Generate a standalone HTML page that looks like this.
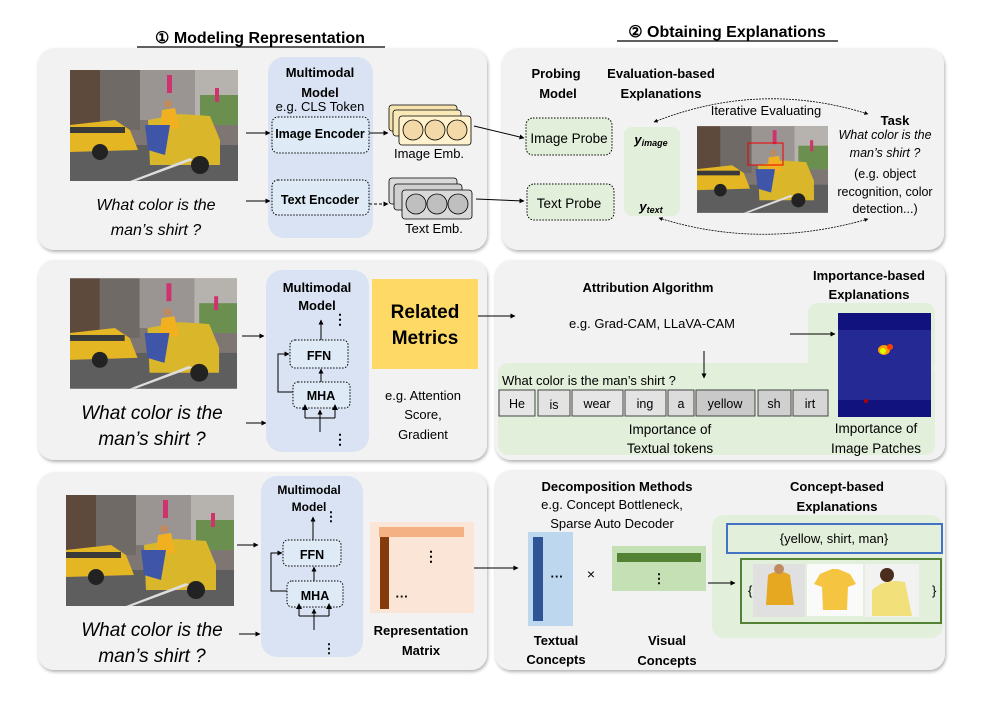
<!DOCTYPE html>
<html><head><meta charset="utf-8"><style>
body{margin:0;background:#fff;}
svg text{font-family:"Liberation Sans",sans-serif;}
</style></head><body>
<svg width="1002" height="702" viewBox="0 0 1002 702" xmlns="http://www.w3.org/2000/svg">
<defs>
<symbol id="photo" viewBox="0 0 168 111">
<rect width="168" height="111" fill="#7d7672"/>
<rect x="0" y="0" width="30" height="60" fill="#5e4a3c"/>
<rect x="30" y="0" width="40" height="60" fill="#6f6a66"/>
<rect x="70" y="0" width="55" height="50" fill="#9a9592"/>
<rect x="125" y="0" width="43" height="55" fill="#b6b2ae"/>
<rect x="130" y="25" width="38" height="30" fill="#6b8f4e"/>
<rect x="97" y="5" width="5" height="18" fill="#d0326e"/>
<rect x="145" y="18" width="4" height="14" fill="#d0326e"/>
<rect x="0" y="75" width="168" height="36" fill="#5f5e5e"/>
<path d="M0 55 L45 50 L60 60 L68 80 L0 82Z" fill="#e4b624"/>
<rect x="0" y="57" width="55" height="6" fill="#3a3a3a"/>
<path d="M78 50 L110 44 L140 46 L150 70 L150 95 L80 95Z" fill="#d9b62a"/>
<path d="M92 40 L105 38 L110 58 L90 60Z" fill="#f0b020"/>
<circle cx="98" cy="34" r="4" fill="#c08a60"/>
<path d="M75 55 L100 55 L95 85 L78 80Z" fill="#3f56a8"/>
<circle cx="30" cy="82" r="8" fill="#222"/>
<circle cx="130" cy="95" r="9" fill="#222"/>
<path d="M60 111 L120 88 L123 90 L66 111Z" fill="#ddd"/>
</symbol>
<marker id="ah" viewBox="0 0 10 10" refX="9" refY="5" markerWidth="7" markerHeight="7" orient="auto-start-reverse"><path d="M0 0 L10 5 L0 10Z" fill="#000"/></marker>
<marker id="as" viewBox="0 0 10 10" refX="9" refY="5" markerWidth="5" markerHeight="5" orient="auto-start-reverse"><path d="M0 0 L10 5 L0 10Z" fill="#000"/></marker>
<filter id="sh" x="-5%" y="-5%" width="110%" height="115%"><feDropShadow dx="1" dy="2" stdDeviation="1.5" flood-color="#000" flood-opacity="0.3"/></filter>
</defs>

<!-- Titles -->
<text x="260" y="43" font-size="16" font-weight="bold" text-anchor="middle">① Modeling Representation</text>
<line x1="137" y1="47" x2="385" y2="47" stroke="#000" stroke-width="1.2"/>
<text x="727" y="37" font-size="16" font-weight="bold" text-anchor="middle">② Obtaining Explanations</text>
<line x1="617" y1="41" x2="838" y2="41" stroke="#000" stroke-width="1.2"/>

<!-- Panels -->
<g fill="#f2f2f2" filter="url(#sh)">
<rect x="38" y="48" width="449" height="202" rx="16"/>
<rect x="502" y="48" width="442" height="202" rx="16"/>
<rect x="38" y="260" width="449" height="200" rx="16"/>
<rect x="495" y="260" width="450" height="200" rx="16"/>
<rect x="38" y="472" width="449" height="198" rx="16"/>
<rect x="495" y="470" width="450" height="200" rx="16"/>
</g>

<!-- ROW 1 LEFT -->
<use href="#photo" x="70" y="70" width="168" height="111"/>
<text x="156" y="210" font-size="16" font-style="italic" text-anchor="middle">What color is the</text>
<text x="156" y="235" font-size="16" font-style="italic" text-anchor="middle">man’s shirt ?</text>
<rect x="268" y="57" width="105" height="181" rx="16" fill="#dae3f3"/>
<text x="320" y="77" font-size="13" font-weight="bold" text-anchor="middle">Multimodal</text>
<text x="320" y="97" font-size="13" font-weight="bold" text-anchor="middle">Model</text>
<text x="320" y="111" font-size="13" text-anchor="middle">e.g. CLS Token</text>
<rect x="272" y="117" width="97" height="36" rx="6" fill="#deebf7" stroke="#000" stroke-dasharray="1.5,1.5"/>
<text x="320" y="138" font-size="12.5" font-weight="bold" text-anchor="middle">Image Encoder</text>
<rect x="272" y="180" width="97" height="35" rx="6" fill="#deebf7" stroke="#000" stroke-dasharray="1.5,1.5"/>
<text x="320" y="204" font-size="12.5" font-weight="bold" text-anchor="middle">Text Encoder</text>
<line x1="246" y1="133" x2="270" y2="133" stroke="#000" marker-end="url(#as)"/>
<line x1="246" y1="201" x2="270" y2="201" stroke="#000" marker-end="url(#as)"/>
<line x1="369" y1="133" x2="388" y2="133" stroke="#000" marker-end="url(#as)"/>
<line x1="369" y1="204" x2="388" y2="204" stroke="#000" stroke-dasharray="3,2" marker-end="url(#as)"/>
<g stroke="#000" stroke-width="0.8">
<rect x="389" y="105" width="68" height="26" rx="3" fill="#f6e4b0"/>
<rect x="393" y="110" width="68" height="26" rx="3" fill="#fae9b8"/>
<rect x="399" y="116" width="72" height="29" rx="3" fill="#fff2cc"/>
<circle cx="413" cy="130" r="10" fill="#f3d9a8"/><circle cx="435" cy="130" r="10" fill="#f3d9a8"/><circle cx="457" cy="130" r="10" fill="#f3d9a8"/>
<rect x="389" y="178" width="68" height="26" rx="3" fill="#d9d9d9"/>
<rect x="394" y="184" width="68" height="26" rx="3" fill="#d0d0d0"/>
<rect x="402" y="190" width="70" height="29" rx="3" fill="#d9d9d9"/>
<circle cx="416" cy="204" r="10" fill="#bfbfbf"/><circle cx="437" cy="204" r="10" fill="#bfbfbf"/><circle cx="458" cy="204" r="10" fill="#bfbfbf"/>
</g>
<text x="429" y="158" font-size="13" text-anchor="middle">Image Emb.</text>
<text x="434" y="233" font-size="13" text-anchor="middle">Text Emb.</text>
<line x1="474" y1="126" x2="524" y2="138" stroke="#000" marker-end="url(#as)"/>
<line x1="476" y1="199" x2="524" y2="201" stroke="#000" marker-end="url(#as)"/>

<!-- ROW 1 RIGHT -->
<text x="556" y="78" font-size="13" font-weight="bold" text-anchor="middle">Probing</text>
<text x="558" y="98" font-size="13" font-weight="bold" text-anchor="middle">Model</text>
<text x="661" y="78" font-size="13" font-weight="bold" text-anchor="middle">Evaluation-based</text>
<text x="661" y="98" font-size="13" font-weight="bold" text-anchor="middle">Explanations</text>
<rect x="526" y="118" width="86" height="37" rx="7" fill="#e2efda" stroke="#000" stroke-dasharray="1.5,1.5"/>
<text x="569" y="143" font-size="13.5" text-anchor="middle">Image Probe</text>
<rect x="527" y="184" width="87" height="36" rx="7" fill="#e2efda" stroke="#000" stroke-dasharray="1.5,1.5"/>
<text x="569" y="208" font-size="13.5" text-anchor="middle">Text Probe</text>
<rect x="624" y="127" width="56" height="89" rx="8" fill="#e2efda"/>
<text x="651" y="144" font-size="13" font-weight="bold" font-style="italic" font-family="Liberation Serif" text-anchor="middle">y<tspan font-size="9" dy="2">image</tspan></text>
<text x="651" y="211" font-size="13" font-weight="bold" font-style="italic" font-family="Liberation Serif" text-anchor="middle">y<tspan font-size="9" dy="2">text</tspan></text>
<use href="#photo" x="697" y="126" width="131" height="87"/>
<rect x="748" y="143" width="35" height="22" fill="none" stroke="#e00" stroke-width="1"/>
<text x="766" y="115" font-size="13" text-anchor="middle">Iterative Evaluating</text>
<path d="M654 122 Q760 80 868 114" fill="none" stroke="#000" stroke-width="0.8" stroke-dasharray="2,1" marker-start="url(#as)" marker-end="url(#as)"/>
<path d="M659 218 Q760 250 868 219" fill="none" stroke="#000" stroke-width="0.8" stroke-dasharray="2,1" marker-start="url(#as)" marker-end="url(#as)"/>
<text x="895" y="125" font-size="13" font-weight="bold" text-anchor="middle">Task</text>
<text x="885" y="139" font-size="12.5" font-style="italic" text-anchor="middle">What color is the</text>
<text x="885" y="157" font-size="12.5" font-style="italic" text-anchor="middle">man’s shirt ?</text>
<text x="885" y="178" font-size="12.5" text-anchor="middle">(e.g. object</text>
<text x="885" y="196" font-size="12.5" text-anchor="middle">recognition, color</text>
<text x="885" y="213" font-size="12.5" text-anchor="middle">detection...)</text>

<!-- ROW 2 LEFT -->
<use href="#photo" x="70" y="278" width="167" height="111"/>
<text x="152" y="419" font-size="19" font-style="italic" text-anchor="middle">What color is the</text>
<text x="152" y="445" font-size="19" font-style="italic" text-anchor="middle">man’s shirt ?</text>
<line x1="242" y1="336" x2="264" y2="336" stroke="#000" marker-end="url(#as)"/>
<line x1="246" y1="423" x2="266" y2="423" stroke="#000" marker-end="url(#as)"/>
<rect x="266" y="270" width="103" height="182" rx="16" fill="#dae3f3"/>
<text x="317" y="292" font-size="13" font-weight="bold" text-anchor="middle">Multimodal</text>
<text x="317" y="310" font-size="13" font-weight="bold" text-anchor="middle">Model</text>
<text x="340" y="324" font-size="14" font-weight="bold" text-anchor="middle">⋮</text>
<rect x="290" y="340" width="58" height="28" rx="5" fill="#deebf7" stroke="#000" stroke-dasharray="1.5,1.5"/>
<text x="319" y="360" font-size="12.5" font-weight="bold" text-anchor="middle">FFN</text>
<rect x="293" y="382" width="57" height="26" rx="5" fill="#deebf7" stroke="#000" stroke-dasharray="1.5,1.5"/>
<text x="321" y="400" font-size="12.5" font-weight="bold" text-anchor="middle">MHA</text>
<line x1="321" y1="340" x2="321" y2="320" stroke="#000" marker-end="url(#as)"/>
<line x1="321" y1="382" x2="321" y2="369" stroke="#000" marker-end="url(#as)"/>
<path d="M293 392 L278 392 L278 354 L289 354" fill="none" stroke="#000" marker-end="url(#as)"/>
<line x1="320" y1="432" x2="320" y2="410" stroke="#000" marker-end="url(#as)"/>
<path d="M305 418 L335 418 M305 418 L305 410 M335 418 L335 410" fill="none" stroke="#000"/>
<path d="M302 410 L305 404 L308 410Z M332 410 L335 404 L338 410Z"/>
<text x="340" y="444" font-size="14" font-weight="bold" text-anchor="middle">⋮</text>
<rect x="372" y="279" width="106" height="90" fill="#ffd966"/>
<text x="425" y="318" font-size="19" font-weight="bold" text-anchor="middle">Related</text>
<text x="425" y="344" font-size="19" font-weight="bold" text-anchor="middle">Metrics</text>
<text x="423" y="400" font-size="13" text-anchor="middle">e.g. Attention</text>
<text x="423" y="419" font-size="13" text-anchor="middle">Score,</text>
<text x="423" y="439" font-size="13" text-anchor="middle">Gradient</text>
<line x1="478" y1="316" x2="515" y2="316" stroke="#000" marker-end="url(#as)"/>

<!-- ROW 2 RIGHT -->
<rect x="808" y="303" width="127" height="70" rx="10" fill="#e2efda"/>
<rect x="498" y="363" width="437" height="92" rx="10" fill="#e2efda"/>
<text x="648" y="292" font-size="13" font-weight="bold" text-anchor="middle">Attribution Algorithm</text>
<text x="652" y="328" font-size="13" text-anchor="middle">e.g. Grad-CAM, LLaVA-CAM</text>
<text x="869" y="280" font-size="13" font-weight="bold" text-anchor="middle">Importance-based</text>
<text x="869" y="299" font-size="13" font-weight="bold" text-anchor="middle">Explanations</text>
<rect x="838" y="313" width="93" height="104" fill="#12127e"/>
<rect x="838" y="330" width="93" height="70" fill="#2a2f98" opacity="0.8"/>
<ellipse cx="884" cy="350" rx="6" ry="5" fill="#ff9900"/>
<circle cx="883" cy="351" r="3" fill="#d6ff00"/>
<circle cx="890" cy="347" r="3" fill="#ff4000"/>
<circle cx="866" cy="401" r="2" fill="#b00000"/>
<line x1="790" y1="334" x2="835" y2="334" stroke="#000" marker-end="url(#as)"/>
<line x1="704" y1="351" x2="704" y2="378" stroke="#000" marker-end="url(#as)"/>
<text x="502" y="385" font-size="13">What color is the man’s shirt ?</text>
<g stroke="#444" stroke-width="1">
<rect x="499" y="390" width="36" height="26" fill="#e7e6e6"/>
<rect x="538" y="390" width="32" height="26" fill="#e3e3e3"/>
<rect x="572" y="390" width="51" height="26" fill="#e7e6e6"/>
<rect x="625" y="390" width="41" height="26" fill="#e3e3e3"/>
<rect x="668" y="390" width="26" height="26" fill="#dcdcdc"/>
<rect x="696" y="390" width="59" height="26" fill="#c9c9c9"/>
<rect x="758" y="390" width="33" height="26" fill="#d0d0d0"/>
<rect x="793" y="390" width="35" height="26" fill="#d6d6d6"/>
</g>
<g font-size="12.5" text-anchor="middle">
<text x="517" y="408">He</text><text x="554" y="409">is</text><text x="597" y="408">wear</text><text x="645" y="408">ing</text><text x="681" y="408">a</text><text x="725" y="408">yellow</text><text x="774" y="408">sh</text><text x="810" y="408">irt</text>
</g>
<text x="670" y="434" font-size="13.5" text-anchor="middle">Importance of</text>
<text x="670" y="453" font-size="13.5" text-anchor="middle">Textual tokens</text>
<text x="876" y="433" font-size="13.5" text-anchor="middle">Importance of</text>
<text x="876" y="453" font-size="13.5" text-anchor="middle">Image Patches</text>

<!-- ROW 3 LEFT -->
<use href="#photo" x="66" y="495" width="168" height="111"/>
<text x="152" y="636" font-size="19" font-style="italic" text-anchor="middle">What color is the</text>
<text x="152" y="662" font-size="19" font-style="italic" text-anchor="middle">man’s shirt ?</text>
<line x1="237" y1="545" x2="258" y2="545" stroke="#000" marker-end="url(#as)"/>
<line x1="239" y1="634" x2="260" y2="634" stroke="#000" marker-end="url(#as)"/>
<rect x="261" y="476" width="102" height="181" rx="16" fill="#dae3f3"/>
<text x="309" y="494" font-size="12" font-weight="bold" text-anchor="middle">Multimodal</text>
<text x="309" y="511" font-size="12" font-weight="bold" text-anchor="middle">Model</text>
<text x="331" y="521" font-size="13" font-weight="bold" text-anchor="middle">⋮</text>
<rect x="283" y="540" width="58" height="26" rx="5" fill="#deebf7" stroke="#000" stroke-dasharray="1.5,1.5"/>
<text x="312" y="559" font-size="12.5" font-weight="bold" text-anchor="middle">FFN</text>
<rect x="287" y="581" width="56" height="26" rx="5" fill="#deebf7" stroke="#000" stroke-dasharray="1.5,1.5"/>
<text x="315" y="600" font-size="12.5" font-weight="bold" text-anchor="middle">MHA</text>
<line x1="313" y1="540" x2="313" y2="517" stroke="#000" marker-end="url(#as)"/>
<line x1="314" y1="581" x2="314" y2="567" stroke="#000" marker-end="url(#as)"/>
<path d="M287 591 L271 591 L271 553 L282 553" fill="none" stroke="#000" marker-end="url(#as)"/>
<line x1="314" y1="630" x2="314" y2="609" stroke="#000" marker-end="url(#as)"/>
<path d="M299 616 L329 616 M299 616 L299 609 M329 616 L329 609" fill="none" stroke="#000"/>
<path d="M296 609 L299 603 L302 609Z M326 609 L329 603 L332 609Z"/>
<text x="329" y="653" font-size="13" font-weight="bold" text-anchor="middle">⋮</text>
<rect x="370" y="522" width="104" height="91" fill="#fbe5d6"/>
<rect x="379" y="527" width="85" height="10" fill="#f4b183"/>
<rect x="380" y="537" width="9" height="72" fill="#843c0c"/>
<text x="431" y="561" font-size="14" font-weight="bold" text-anchor="middle">⋮</text>
<text x="402" y="601" font-size="13" font-weight="bold" text-anchor="middle">···</text>
<text x="421" y="635" font-size="13" font-weight="bold" text-anchor="middle">Representation</text>
<text x="421" y="655" font-size="13" font-weight="bold" text-anchor="middle">Matrix</text>
<line x1="474" y1="568" x2="518" y2="568" stroke="#000" marker-end="url(#as)"/>

<!-- ROW 3 RIGHT -->
<text x="617" y="491" font-size="13" font-weight="bold" text-anchor="middle">Decomposition Methods</text>
<text x="612" y="509" font-size="13" text-anchor="middle">e.g. Concept Bottleneck,</text>
<text x="612" y="528" font-size="13" text-anchor="middle">Sparse Auto Decoder</text>
<rect x="528" y="532" width="45" height="94" fill="#bdd7ee"/>
<rect x="533" y="537" width="10" height="84" fill="#2f5597"/>
<text x="557" y="581" font-size="13" font-weight="bold" text-anchor="middle">···</text>
<text x="591" y="579" font-size="14" text-anchor="middle">×</text>
<rect x="612" y="546" width="94" height="45" fill="#c5e0b4"/>
<rect x="617" y="553" width="84" height="9" fill="#548235"/>
<text x="659" y="583" font-size="13" font-weight="bold" text-anchor="middle">⋮</text>
<text x="556" y="645" font-size="13" font-weight="bold" text-anchor="middle">Textual</text>
<text x="556" y="664" font-size="13" font-weight="bold" text-anchor="middle">Concepts</text>
<text x="667" y="645" font-size="13" font-weight="bold" text-anchor="middle">Visual</text>
<text x="667" y="665" font-size="13" font-weight="bold" text-anchor="middle">Concepts</text>
<text x="837" y="491" font-size="13" font-weight="bold" text-anchor="middle">Concept-based</text>
<text x="837" y="511" font-size="13" font-weight="bold" text-anchor="middle">Explanations</text>
<rect x="712" y="515" width="231" height="123" rx="12" fill="#e2efda"/>
<rect x="727" y="524" width="215" height="29" fill="#e2efda" stroke="#4472c4" stroke-width="2"/>
<text x="834" y="543" font-size="13" text-anchor="middle">{yellow, shirt, man}</text>
<rect x="741" y="559" width="200" height="64" fill="#e2efda" stroke="#548235" stroke-width="2"/>
<text x="748" y="595" font-size="13">{</text>
<text x="932" y="595" font-size="13">}</text>
<rect x="753" y="564" width="52" height="53" fill="#e0e0e0"/>
<path d="M768 575 Q779 568 790 575 L794 605 L766 605Z" fill="#e6a820"/>
<circle cx="779" cy="569" r="5" fill="#c08a60"/>
<rect x="807" y="564" width="56" height="52" fill="#fafafa"/>
<path d="M820 574 L832 569 L838 569 L850 574 L856 584 L848 587 L847 610 L823 610 L822 587 L814 584Z" fill="#f5c542"/>
<rect x="865" y="564" width="54" height="53" fill="#f2f2f2"/>
<path d="M872 590 Q885 578 905 582 L912 616 L872 616Z" fill="#f2e07a"/>
<circle cx="887" cy="575" r="7" fill="#4a2d1c"/>
<line x1="708" y1="583" x2="735" y2="583" stroke="#000" marker-end="url(#as)"/>
</svg>
</body></html>
